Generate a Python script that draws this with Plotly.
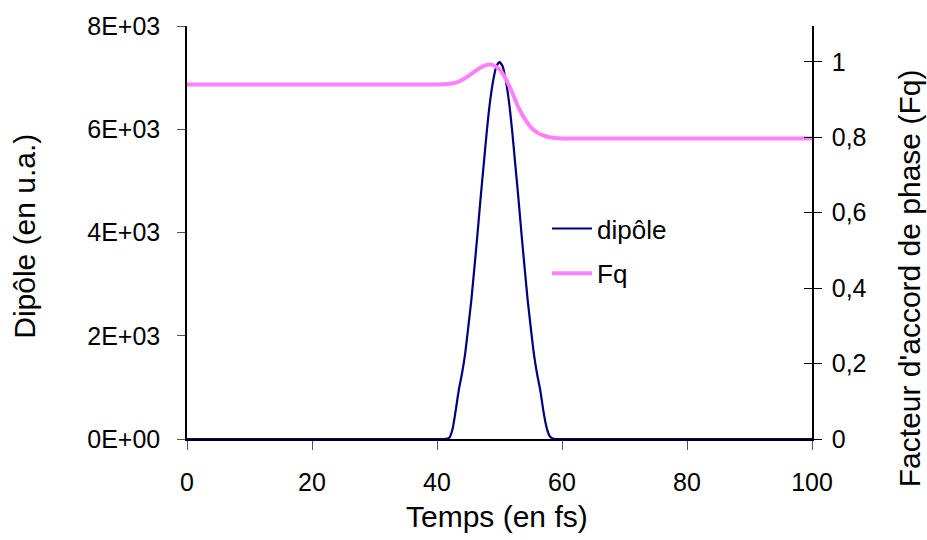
import plotly.graph_objects as go

# Dipole (u.a.) vs time (fs)
t_dip = [0, 10, 20, 30, 40, 41, 41.5, 42, 42.5, 43, 43.5, 44, 44.5, 45, 45.5, 46, 46.5, 47, 47.5,
         48, 48.5, 49, 49.5, 50, 50.5, 51, 51.5, 52, 52.5, 53, 53.5, 54, 54.5, 55, 55.5,
         56, 56.5, 57, 57.5, 58, 58.5, 59, 60, 70, 80, 90, 100]
dipole = [0, 0, 0, 0, 0, 0, 5, 30, 200, 560, 960, 1270, 1650, 2160, 2700, 3340, 4000, 4700, 5350,
          6000, 6550, 6950, 7220, 7300, 7220, 6950, 6550, 6000, 5350, 4700, 4000, 3340, 2700, 2160, 1650,
          1270, 960, 560, 240, 60, 10, 0, 0, 0, 0, 0, 0]

# Phase matching factor Fq vs time (fs)
t_fq = [0, 10, 20, 30, 40, 42, 43, 44, 45, 46, 47, 48, 48.5, 49, 50, 51, 52, 53, 54, 55, 56, 57, 58,
        60, 70, 80, 90, 100]
fq = [0.940, 0.940, 0.940, 0.940, 0.940, 0.942, 0.945, 0.952, 0.962, 0.974, 0.985, 0.992, 0.993,
      0.991, 0.980, 0.955, 0.920, 0.880, 0.850, 0.827, 0.813, 0.805, 0.800, 0.797, 0.797, 0.797,
      0.797, 0.797]

x_ticks = [0, 20, 40, 60, 80, 100]
y1_ticks = [0, 2000, 4000, 6000, 8000]
y1_ticktext = ["0E+00", "2E+03", "4E+03", "6E+03", "8E+03"]
y2_ticks = [0, 0.2, 0.4, 0.6, 0.8, 1]
y2_ticktext = ["0", "0,2", "0,4", "0,6", "0,8", "1"]

FONT = "Liberation Sans, Arial, sans-serif"

fig = go.Figure()
fig.add_trace(go.Scatter(x=t_dip, y=dipole, mode="lines", name="dipôle",
                         line=dict(color="#000080", width=2.2, shape="spline", smoothing=0.6),
                         legendgroup="a", yaxis="y"))
fig.add_trace(go.Scatter(x=t_fq, y=fq, mode="lines", name="Fq",
                         line=dict(color="#FF80FF", width=4, shape="spline", smoothing=0.8),
                         legendgroup="b", yaxis="y2"))

fig.update_layout(
    width=927, height=540,
    margin=dict(l=187, r=115, t=23, b=101),
    paper_bgcolor="white", plot_bgcolor="white",
    font=dict(family=FONT, size=25, color="black"),
    showlegend=True,
    legend=dict(x=0.576, y=0.455, xanchor="left", yanchor="middle",
                bgcolor="rgba(0,0,0,0)", font=dict(size=26), tracegroupgap=8,
                itemwidth=40),
    xaxis=dict(range=[0, 100], tickvals=x_ticks, ticks="outside", ticklen=9,
               tickcolor="#555", showline=True, linecolor="black", linewidth=1.5,
               showgrid=False, zeroline=False, tickfont=dict(size=25),
               ticklabelstandoff=11),
    yaxis=dict(range=[0, 8000], tickvals=y1_ticks, ticktext=y1_ticktext,
               ticks="outside", ticklen=8, tickcolor="#555", showline=True,
               linecolor="black", linewidth=1.5, showgrid=False, zeroline=False,
               tickfont=dict(size=25), ticklabelstandoff=12),
    yaxis2=dict(range=[0, 1.095], tickvals=y2_ticks, ticktext=y2_ticktext,
                overlaying="y", side="right", ticks="outside", ticklen=8,
                tickcolor="black", showline=True, linecolor="black", linewidth=1.5,
                showgrid=False, zeroline=False, tickfont=dict(size=25),
                ticklabelstandoff=5),
    yaxis3=dict(range=[0, 1.095], tickvals=y2_ticks, overlaying="y", side="right",
                ticks="inside", ticklen=8, tickcolor="black", showticklabels=False,
                showline=False, showgrid=False, zeroline=False),
)

# invisible trace to activate yaxis3 (cross ticks on the right axis)
fig.add_trace(go.Scatter(x=[None], y=[None], yaxis="y3", showlegend=False, hoverinfo="skip"))

fig.add_annotation(text="Temps (en fs)", xref="paper", yref="paper", x=0.496, y=-0.1875,
                   xanchor="center", yanchor="middle", showarrow=False, font=dict(size=30))
fig.add_annotation(text="Dipôle (en u.a.)", xref="paper", yref="paper", x=-0.259, y=0.49,
                   xanchor="center", yanchor="middle", showarrow=False, textangle=-90,
                   font=dict(size=30))
fig.add_annotation(text="Facteur d'accord de phase (Fq)", xref="paper", yref="paper",
                   x=1.155, y=0.389, xanchor="center", yanchor="middle", showarrow=False,
                   textangle=-90, font=dict(size=30))

fig.write_html("out.html")
